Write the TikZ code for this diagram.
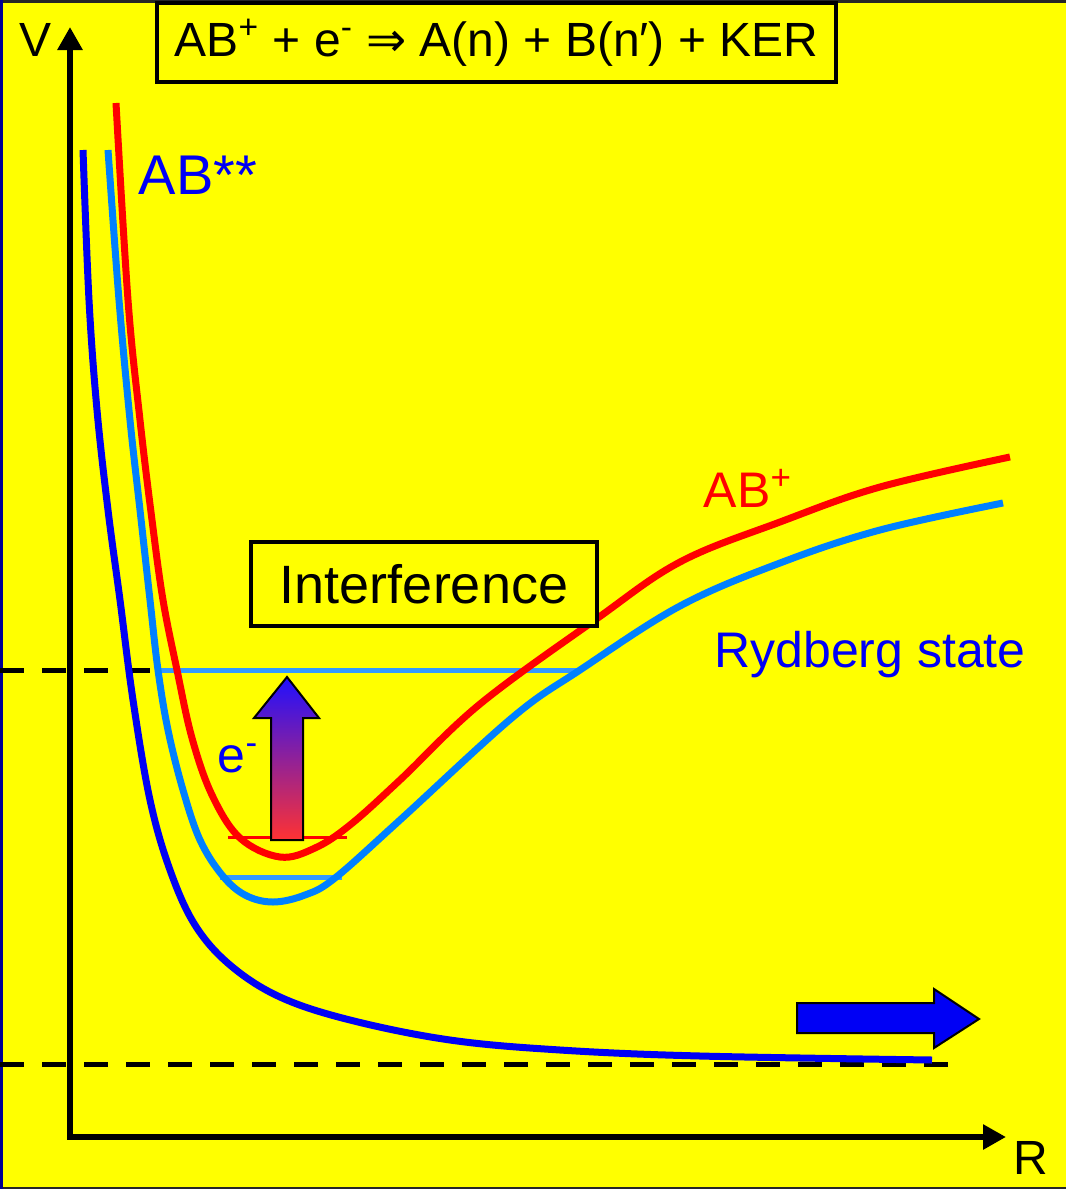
\documentclass[tikz,border=0pt]{standalone}
\usepackage{fontspec}
\setmainfont{Liberation Sans}
\newfontfamily\arrowfont{DejaVu Sans}
\usetikzlibrary{arrows.meta}

\definecolor{bgyellow}{RGB}{255,255,0}
\definecolor{abblue}{RGB}{0,0,245}
\definecolor{rydblue}{RGB}{0,128,255}
\definecolor{levelblue}{RGB}{51,153,255}
\definecolor{abred}{RGB}{255,0,0}

\tikzset{
  curve/.style={line width=3.5pt, line join=round, line cap=butt},
  dashlevel/.style={line width=2.5pt, dash pattern=on 12pt off 9pt},
  axis/.style={line width=3pt, {Triangle[length=11.5pt,width=12pt]}-{Triangle[length=11.5pt,width=12pt]}},
  labelbox/.style={draw, line width=2pt, fill=bgyellow, inner sep=0pt},
}

\begin{document}
\begin{tikzpicture}[x=0.5pt,y=-0.5pt]

\useasboundingbox (0,0) rectangle (1066,1189);
\fill[bgyellow] (0,0) rectangle (1066,1189);
\draw[line width=1.5pt, black!85] (0,1) -- (1066,1);
\draw[line width=1.5pt, black!85] (0,1188) -- (1066,1188);
\draw[line width=1.5pt, abblue!60!black] (1,0) -- (1,1189);

% energy levels
\draw[dashlevel] (0,670) -- (160,670);
\draw[dashlevel] (0,1064) -- (958,1064);
\draw[levelblue, line width=2.5pt] (156,670) -- (580,670);
\draw[levelblue, line width=2.5pt] (220,877) -- (342,877);
\draw[abred, line width=1.5pt] (228,837) -- (347,837);

% axes
\coordinate (Vtop) at (70,27);
\coordinate (O) at (70,1137);
\coordinate (Rend) at (1006,1137);
\draw[axis] (Vtop) -- (O) -- (Rend);
\node[font=\fontsize{24}{28}\selectfont] (lblV) at (36,40) {V};
\node[font=\fontsize{24}{28}\selectfont] (lblR) at (1031,1158) {R};

% potential curves
\draw[curve, abblue] plot[smooth, tension=0.6] coordinates {
  (83,150) (89,300) (97,410) (108,510) (120,600) (133,700)
  (150,800) (170,870) (195,925) (230,965) (280,997) (350,1020)
  (450,1040) (560,1050) (700,1056) (932,1060)};
\draw[curve, rydblue] plot[smooth, tension=0.6] coordinates {
  (108,150) (119,300) (130,420) (140,510) (150,600) (158,670)
  (168,730) (183,790) (200,840) (222,875) (245,895) (273,902)
  (305,895) (335,878) (400,820) (513,717) (580,670) (680,606)
  (780,563) (880,530) (1003,503)};
\draw[curve, abred] plot[smooth, tension=0.6] coordinates {
  (116,103) (128,300) (140,420) (152,520) (163,600) (177,670)
  (192,738) (212,795) (240,838) (280,857) (315,848) (350,825)
  (400,780) (480,704) (595,620) (680,562) (780,522) (880,487)
  (1010,457)};

% excitation arrow
\shade[top color={rgb,255:red,32;green,16;blue,255},
       bottom color={rgb,255:red,255;green,50;blue,50},
       draw=black, line width=1pt]
  (271,840) -- (303,840) -- (303,718) -- (319,718) -- (287,677)
  -- (254,718) -- (271,718) -- cycle;
\node[abblue, font=\fontsize{25}{30}\selectfont] (lblE) at (238,758) {e\textsuperscript{-}};

% dissociation arrow
\draw[fill=abblue, draw=black, line width=1pt]
  (797,1003) -- (934,1003) -- (934,989) -- (979,1019) -- (934,1048)
  -- (934,1033) -- (797,1033) -- cycle;

% labels
\node[labelbox, minimum width=339.5pt, minimum height=39.5pt,
      font=\fontsize{24}{28}\selectfont] (reaction) at (496.5,42.5)
  {AB\textsuperscript{+} + e\textsuperscript{-} {\arrowfont ⇒} A(n) + B(n′) + KER};
\node[labelbox, minimum width=173pt, minimum height=42pt,
      font=\fontsize{27}{32}\selectfont] (interf) at (424,584) {Interference};
\node[abblue, font=\fontsize{28}{32}\selectfont] (lblABss) at (198,175) {AB**};
\node[abred, font=\fontsize{25}{30}\selectfont] (lblABp) at (748,488) {AB\textsuperscript{+}};
\node[abblue, font=\fontsize{25}{30}\selectfont] (lblRyd) at (870,655) {Rydberg state};

\end{tikzpicture}
\end{document}
